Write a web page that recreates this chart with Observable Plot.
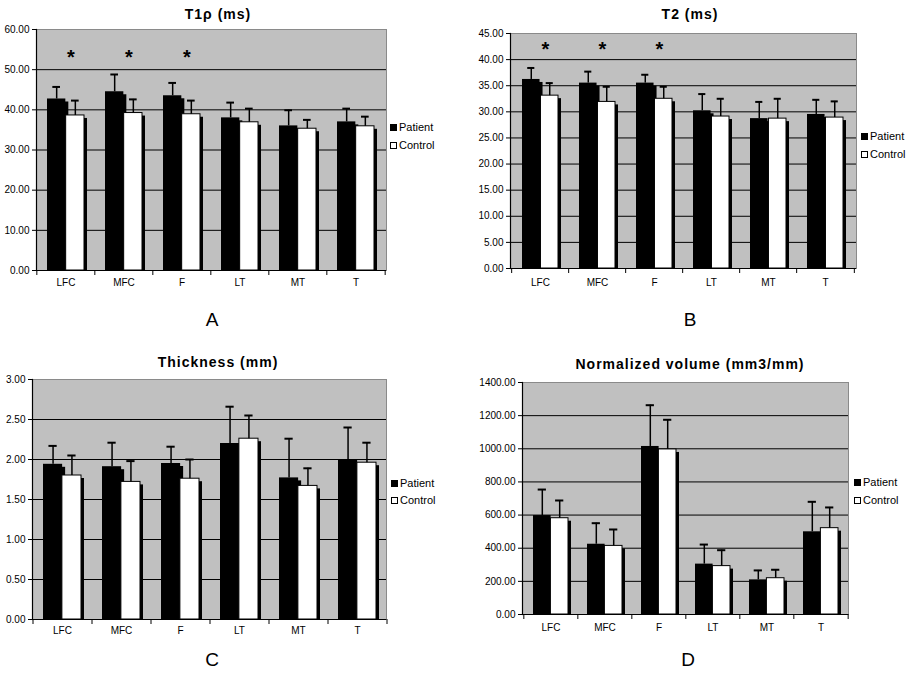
<!DOCTYPE html>
<html><head><meta charset="utf-8">
<script src="https://cdn.jsdelivr.net/npm/d3@7"></script>
<script src="https://cdn.jsdelivr.net/npm/@observablehq/plot@0.6"></script>
<style>
body{margin:0;background:#fff;font-family:"Liberation Sans",Arial,sans-serif;}
#root{position:relative;width:911px;height:677px;overflow:hidden;background:#fff;}
.abs{position:absolute;}
.title{font-weight:bold;font-size:14px;letter-spacing:1px;transform:translate(-50%,-50%);white-space:nowrap;color:#000;}
.letter{font-size:19px;transform:translate(-50%,-50%);color:#000;}
.leg{font-size:11px;display:flex;align-items:center;transform:translateY(-50%);white-space:nowrap;color:#000;}
.sw{display:inline-block;width:7px;height:7px;border:1px solid #000;margin-right:2px;box-sizing:border-box;}
</style></head><body><div id="root"></div>
<script>
const categories = ["LFC", "MFC", "F", "LT", "MT", "T"];
const seriesNames = ["Patient", "Control"];

const t1rhoPatient   = [42.7, 44.5, 43.5, 38.0, 36.0, 37.0];
const t1rhoPatientSD = [3.0, 4.3, 3.2, 3.8, 3.9, 3.3];
const t1rhoControl   = [38.6, 39.2, 38.9, 36.9, 35.3, 35.9];
const t1rhoControlSD = [3.7, 3.4, 3.4, 3.4, 2.2, 2.4];

const t2Patient   = [36.2, 35.5, 35.5, 30.2, 28.7, 29.5];
const t2PatientSD = [2.2, 2.2, 1.6, 3.2, 3.2, 2.8];
const t2Control   = [33.1, 31.9, 32.5, 29.1, 28.7, 28.9];
const t2ControlSD = [2.4, 2.9, 2.3, 3.4, 3.8, 3.1];

const thickPatient   = [1.94, 1.91, 1.95, 2.20, 1.77, 1.99];
const thickPatientSD = [0.23, 0.30, 0.21, 0.46, 0.49, 0.41];
const thickControl   = [1.80, 1.72, 1.76, 2.26, 1.67, 1.96];
const thickControlSD = [0.25, 0.26, 0.24, 0.29, 0.22, 0.25];

const volPatient   = [597, 424, 1014, 304, 209, 499];
const volPatientSD = [157, 127, 249, 118, 57, 181];
const volControl   = [581, 414, 996, 292, 219, 521];
const volControlSD = [107, 99, 179, 96, 51, 125];

const significant = ["LFC", "MFC", "F"];

const root = document.getElementById("root");

function addDiv(cls, x, y, html) {
  const d = document.createElement("div");
  d.className = "abs " + cls;
  d.style.left = x + "px";
  d.style.top = y + "px";
  d.innerHTML = html;
  root.appendChild(d);
  return d;
}

function panel(cfg) {
  const {left, top, width, plotL, plotR, plotT, plotB, ymax, yStep, pat, patSD, con, conSD, stars, starY} = cfg;
  const height = plotB - top + 26;
  const ml = plotL - left, mr = left + width - plotR, mt = plotT - top, mb = height - (plotB - top);
  const n = categories.length;
  const step = (plotR - plotL) / n;
  const pad = 0.36;
  const bw = step * (1 - pad);
  const rows = categories.map((c, i) => ({cat: c, p: pat[i], ps: patSD[i], c: con[i], cs: conSD[i]}));
  const ticks = d3.range(0, ymax + yStep / 2, yStep);
  const capIn = (bw / 2 - 8) / 2;
  const marks = [
    Plot.frame({fill: "#c0c0c0", stroke: "#8a8a8a"}),
    Plot.ruleY(ticks.filter(t => t > 0 && t < ymax), {stroke: "#000", strokeWidth: 1}),
    // shadows
    Plot.barY(rows, {x: "cat", y: "p", insetRight: bw / 2, dx: 3, dy: 3, insetBottom: 3, fill: "#000"}),
    Plot.barY(rows, {x: "cat", y: "c", insetLeft: bw / 2, dx: 3, dy: 3, insetBottom: 3, fill: "#000"}),
    // bars
    Plot.barY(rows, {x: "cat", y: "p", insetRight: bw / 2, fill: "#000"}),
    Plot.barY(rows, {x: "cat", y: "c", insetLeft: bw / 2, fill: "#fff", stroke: "#000", strokeWidth: 1}),
    // error bars
    Plot.ruleX(rows, {x: "cat", y1: "p", y2: d => d.p + d.ps, dx: -bw / 4, stroke: "#000", strokeWidth: 1.5}),
    Plot.ruleX(rows, {x: "cat", y1: "c", y2: d => d.c + d.cs, dx: bw / 4, stroke: "#000", strokeWidth: 1.5}),
    Plot.tickY(rows, {x: "cat", y: d => d.p + d.ps, insetLeft: capIn, insetRight: bw / 2 + capIn, stroke: "#000", strokeWidth: 2}),
    Plot.tickY(rows, {x: "cat", y: d => d.c + d.cs, insetLeft: bw / 2 + capIn, insetRight: capIn, stroke: "#000", strokeWidth: 2}),
    // axes
    Plot.ruleY([0], {stroke: "#000", strokeWidth: 1.2}),
    Plot.frame({anchor: "left", stroke: "#000", strokeWidth: 1.2}),
    Plot.axisY({ticks, tickSize: 4, tickPadding: 3, tickFormat: d3.format(".2f"), fontSize: 10, label: null}),
    Plot.axisX({tickSize: 0, tickPadding: cfg.labelPad, fontSize: 10, label: null}),
    Plot.axisX({tickSize: 5, text: null, label: null, dx: -step / 2}),
    Plot.axisX({ticks: [categories[n - 1]], tickSize: 5, text: null, label: null, dx: step / 2})
  ];
  if (stars) {
    marks.push(Plot.text(stars, {x: d => d, y: () => starY, text: () => "*", dx: 5, dy: 4, fontSize: 20, fontWeight: "bold", fill: "#000"}));
  }
  const svg = Plot.plot({
    width, height,
    marginLeft: ml, marginRight: mr, marginTop: mt, marginBottom: mb,
    style: {fontFamily: '"Liberation Sans", Arial, sans-serif', fontSize: "10px", color: "#000", background: "transparent", overflow: "visible"},
    x: {type: "band", domain: categories, paddingInner: pad, paddingOuter: pad / 2, axis: null, label: null},
    y: {domain: [0, ymax], axis: null, label: null},
    marks
  });
  svg.style.position = "absolute";
  svg.style.left = left + "px";
  svg.style.top = top + "px";
  root.appendChild(svg);

  addDiv("title", cfg.titleX, cfg.titleY, cfg.title);
  addDiv("letter", cfg.letterX, cfg.letterY, cfg.letter);
  addDiv("leg", cfg.legX, cfg.legY1, '<span class="sw" style="background:#000"></span>' + seriesNames[0]);
  addDiv("leg", cfg.legX, cfg.legY2, '<span class="sw" style="background:#fff"></span>' + seriesNames[1]);
}

panel({left: 0, top: 19, width: 455, plotL: 36, plotR: 386, plotT: 29, plotB: 270, ymax: 60, yStep: 10,
  pat: t1rhoPatient, patSD: t1rhoPatientSD, con: t1rhoControl, conSD: t1rhoControlSD, stars: significant, starY: 54,
  title: "T1ρ (ms)", titleX: 218, titleY: 14, letter: "A", letterX: 212, letterY: 320,
  legX: 390, legY1: 127, legY2: 145, labelPad: 8});

panel({left: 455, top: 23, width: 456, plotL: 510, plotR: 856, plotT: 33, plotB: 268, ymax: 45, yStep: 5,
  pat: t2Patient, patSD: t2PatientSD, con: t2Control, conSD: t2ControlSD, stars: significant, starY: 42.6,
  title: "T2 (ms)", titleX: 690, titleY: 14, letter: "B", letterX: 690, letterY: 320,
  legX: 861, legY1: 136, legY2: 154, labelPad: 10});

panel({left: 0, top: 369, width: 455, plotL: 32, plotR: 386, plotT: 379, plotB: 619, ymax: 3, yStep: 0.5,
  pat: thickPatient, patSD: thickPatientSD, con: thickControl, conSD: thickControlSD,
  title: "Thickness (mm)", titleX: 218, titleY: 362, letter: "C", letterX: 212, letterY: 660,
  legX: 391, legY1: 483, legY2: 500, labelPad: 7});

panel({left: 455, top: 372, width: 456, plotL: 522, plotR: 848, plotT: 382, plotB: 614, ymax: 1400, yStep: 200,
  pat: volPatient, patSD: volPatientSD, con: volControl, conSD: volControlSD,
  title: "Normalized volume (mm3/mm)", titleX: 690, titleY: 364, letter: "D", letterX: 688, letterY: 660,
  legX: 854, legY1: 482, legY2: 500, labelPad: 9});
</script></body></html>
